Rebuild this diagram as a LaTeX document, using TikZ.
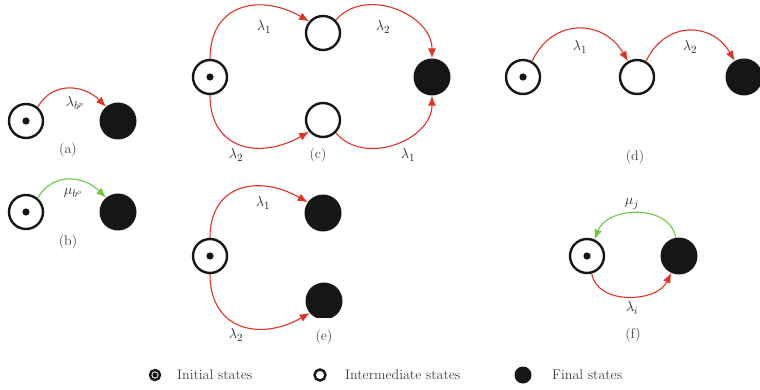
\documentclass[tikz,border=0pt]{standalone}
\usetikzlibrary{arrows.meta}
\definecolor{myred}{RGB}{222,52,38}
\definecolor{mygreen}{RGB}{110,200,70}
\definecolor{myblack}{RGB}{22,22,22}
\begin{document}
\begin{tikzpicture}[x=1pt,y=-1pt,
  initstate/.style={circle,draw=myblack,line width=2.4pt,minimum size=34pt,inner sep=0pt,
    path picture={\fill[myblack] (path picture bounding box.center) circle (3.6pt);}},
  midstate/.style={circle,draw=myblack,line width=2.4pt,minimum size=34pt,inner sep=0pt},
  finstate/.style={circle,fill=myblack,minimum size=37pt,inner sep=0pt},
  rarr/.style={draw=myred,line width=1.1pt,-{Latex[length=10pt,width=8pt]},fill=none},
  garr/.style={draw=mygreen,line width=1.1pt,-{Latex[length=10pt,width=8pt]},fill=none},
  lbl/.style={font=\fontsize{15}{18}\selectfont,inner sep=1pt,text=black!85},
  sub/.style={font=\fontsize{14}{17}\selectfont,inner sep=1pt,text=black!75}
]
\useasboundingbox (0,0) rectangle (760,390);
% (a)
\node[initstate] (ai) at (26,121) {};
\node[finstate] (af) at (118,121) {};
\draw[rarr] (ai.50) to[out=60,in=135,looseness=1.15] (af.130);
\node[lbl] at (75,103) {$\lambda_{b^p}$};
\node[sub] at (68,150) {(a)};
% (b)
\node[initstate] (bi) at (26,212) {};
\node[finstate] (bf) at (118,212) {};
\draw[garr] (bi.50) to[out=60,in=135,looseness=1.15] (bf.130);
\node[lbl] at (73,193) {$\mu_{b^o}$};
\node[sub] at (68,242) {(b)};
% (c)
\node[initstate] (ci) at (210,77) {};
\node[midstate] (ct) at (323,33) {};
\node[midstate] (cb) at (323,120) {};
\node[finstate] (cf) at (432,77) {};
\draw[rarr] (ci.north) to[out=90,in=150,looseness=1.35] (ct.140);
\draw[rarr] (ct.45) to[out=50,in=90,looseness=1.1] (cf.north);
\draw[rarr] (ci.south) to[out=-90,in=210,looseness=1.35] (cb.220);
\draw[rarr] (cb.-45) to[out=-50,in=-90,looseness=1.1] (cf.south);
\node[lbl] at (264,27) {$\lambda_1$};
\node[lbl] at (383,27) {$\lambda_2$};
\node[lbl] at (236,155) {$\lambda_2$};
\node[lbl] at (408,155) {$\lambda_1$};
\node[sub] at (318,155) {(c)};
% (d)
\node[initstate] (di) at (523,77) {};
\node[midstate] (dm) at (637,77) {};
\node[finstate] (df) at (744,77) {};
\draw[rarr] (di.60) to[out=65,in=120,looseness=1.3] (dm.120);
\draw[rarr] (dm.60) to[out=65,in=120,looseness=1.3] (df.120);
\node[lbl] at (580,47) {$\lambda_1$};
\node[lbl] at (690,47) {$\lambda_2$};
\node[sub] at (635,157) {(d)};
% (e)
\node[initstate] (ei) at (210,256) {};
\node[finstate] (et) at (323,213) {};
\node[finstate] (eb) at (324,301) {};
\node[sub,fill=white,inner ysep=12pt,inner xsep=4pt] at (324,337) {(e)};
\draw[rarr] (ei.north) to[out=90,in=150,looseness=1.35] (et.145);
\draw[rarr] (ei.south) to[out=-90,in=210,looseness=1.35] (eb.220);
\node[lbl] at (263,203) {$\lambda_1$};
\node[lbl] at (236,335) {$\lambda_2$};
% (f)
\node[initstate] (fi) at (587,256) {};
\node[finstate] (ff) at (679,256) {};
\draw[garr] (ff.100) to[out=100,in=70,looseness=1.1] (fi.65);
\draw[rarr] (fi.-75) to[out=-80,in=-115,looseness=1.05] (ff.-115);
\node[lbl] at (632,204) {$\mu_j$};
\node[lbl] at (632,308) {$\lambda_i$};
\node[sub] at (633,335) {(f)};
% legend
\node[circle,draw=myblack,line width=2.4pt,minimum size=10pt,inner sep=0pt,
  path picture={\fill[myblack] (path picture bounding box.center) circle (2.6pt);}] (li) at (155,375) {};
\node[sub,anchor=west] (lit) at (176,375) {Initial states};
\node[circle,draw=myblack,line width=2.4pt,minimum size=11pt,inner sep=0pt] (lm) at (320,375) {};
\node[sub,anchor=west] (lmt) at (344,375) {Intermediate states};
\node[circle,fill=myblack,minimum size=17pt,inner sep=0pt] (lf) at (523,375) {};
\node[sub,anchor=west] (lft) at (551,375) {Final states};
\end{tikzpicture}
\end{document}
